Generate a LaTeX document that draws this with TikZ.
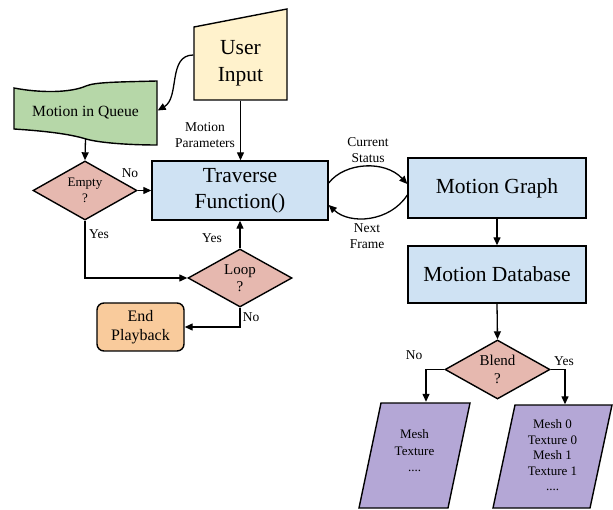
\documentclass[tikz,border=0pt]{standalone}
\usepackage{fontspec}
\setmainfont{Liberation Serif}
\usetikzlibrary{shapes.geometric,arrows.meta,calc}
\definecolor{cblue}{HTML}{CFE2F3}
\definecolor{cred}{HTML}{E6B8AF}
\definecolor{cgreen}{HTML}{B6D7A8}
\definecolor{cyellow}{HTML}{FFF2CC}
\definecolor{corange}{HTML}{F9CB9C}
\definecolor{cpurple}{HTML}{B4A7D6}
\begin{document}
\begin{tikzpicture}[x=1pt,y=-1pt,line width=1.4pt,
  procbox/.style={draw,fill=cblue,align=center,inner sep=0pt,font=\fontsize{21.5}{26}\selectfont},
  decision/.style={diamond,draw,fill=cred,inner sep=0pt,shape aspect=1.76,align=center,font=\fontsize{15}{17.5}\selectfont},
  txt/.style={align=center,inner sep=0pt},
  lbl/.style={align=center,inner sep=0pt,font=\fontsize{13.5}{16.5}\selectfont},
  arr/.style={-{Triangle[length=8pt,width=7pt]},line width=1.3pt}]
\useasboundingbox (0,0) rectangle (613,510);
% User input (manual input shape)
\draw[fill=cyellow] (194,27) -- (287,9) -- (287,100) -- (194,100) -- cycle;
\node[txt,minimum width=93pt,minimum height=73pt,font=\fontsize{21.5}{27}\selectfont] (ui) at (240.5,63.5) {User\\Input};
% Motion in queue (tape)
\draw[fill=cgreen] (14,88) .. controls (40,93) and (70,93) .. (86,86) .. controls (95,82) and (120,82) .. (157,81)
  -- (157,145) .. controls (130,145) and (100,143) .. (86,139) .. controls (70,134) and (45,131) .. (14,129) -- cycle;
\node[txt,minimum width=143pt,minimum height=51pt,font=\fontsize{15.6}{18}\selectfont] (qu) at (85.5,112.5) {Motion in Queue};
% process boxes
\node[procbox,minimum width=176pt,minimum height=59pt] (tf) at (240,190.5) {Traverse\\Function()};
\node[procbox,minimum width=178pt,minimum height=60pt] (mg) at (497,188) {Motion Graph};
\node[procbox,minimum width=178pt,minimum height=57pt] (md) at (497,274.5) {Motion Database};
% decisions
\node[decision,minimum width=104pt,minimum height=59pt,font=\fontsize{13}{16.5}\selectfont] (em) at (85,190.5) {Empty\\?};
\node[decision,minimum width=104pt,minimum height=58pt] (lp) at (240,278) {Loop\\?};
\node[decision,minimum width=105pt,minimum height=59pt] (bl) at (497.5,369.5) {Blend\\?};
% end playback
\node[draw,fill=corange,rounded corners=7pt,align=center,inner sep=0pt,minimum width=87pt,minimum height=48pt,font=\fontsize{16}{19}\selectfont] (ep) at (140.5,327) {End\\Playback};
% parallelograms
\draw[fill=cpurple] (381,403) -- (470,403) -- (448,508) -- (359,508) -- cycle;
\draw[fill=cpurple] (515,405) -- (612,405) -- (590,508) -- (493,508) -- cycle;
\node[txt,minimum width=89pt,minimum height=97pt,font=\fontsize{13}{16.5}\selectfont] (p1) at (414.5,451) {Mesh\\Texture\\....};
\node[txt,minimum width=97pt,minimum height=101pt,font=\fontsize{13}{15.5}\selectfont] (p2) at (552.5,455.5) {Mesh 0\\Texture 0\\Mesh 1\\Texture 1\\....};
% connectors
\draw[arr] ([yshift=8.5pt]ui.west) to[out=180,in=30] ([yshift=2pt]qu.east);
\draw[arr] (ui.south) -- (ui.south |- tf.north);
\draw[arr] (qu.south) -- (em.north);
\draw[arr] (em.east) -- (tf.west);
\draw[arr] (em.south) |- (lp.west);
\draw[arr] (lp.north) -- (tf.south);
\draw[arr] (lp.south) |- (ep.east);
\draw[arr] ([yshift=7.5pt]tf.east) .. controls (345,162) and (385,160) .. ([yshift=4pt]mg.west);
\draw[arr] ([yshift=-7pt]mg.west) .. controls (390,222) and (350,225) .. ([yshift=-14.5pt]tf.east);
\draw[arr] (mg.south) -- (md.north);
\draw[arr] (md.south) -- (bl.north);
\draw[arr] (bl.west) -| ([xshift=11.5pt]p1.north);
\draw[arr] (bl.east) -| ([xshift=12.5pt]p2.north);
% labels
\node[lbl] at (205,135) {Motion\\Parameters};
\node[lbl] at (130,173) {No};
\node[lbl] at (99,234) {Yes};
\node[lbl] at (212,238) {Yes};
\node[lbl] at (251,317) {No};
\node[lbl] at (368,150) {Current\\Status};
\node[lbl] at (367,236) {Next\\Frame};
\node[lbl] at (414,355) {No};
\node[lbl] at (564,361) {Yes};
\end{tikzpicture}
\end{document}
